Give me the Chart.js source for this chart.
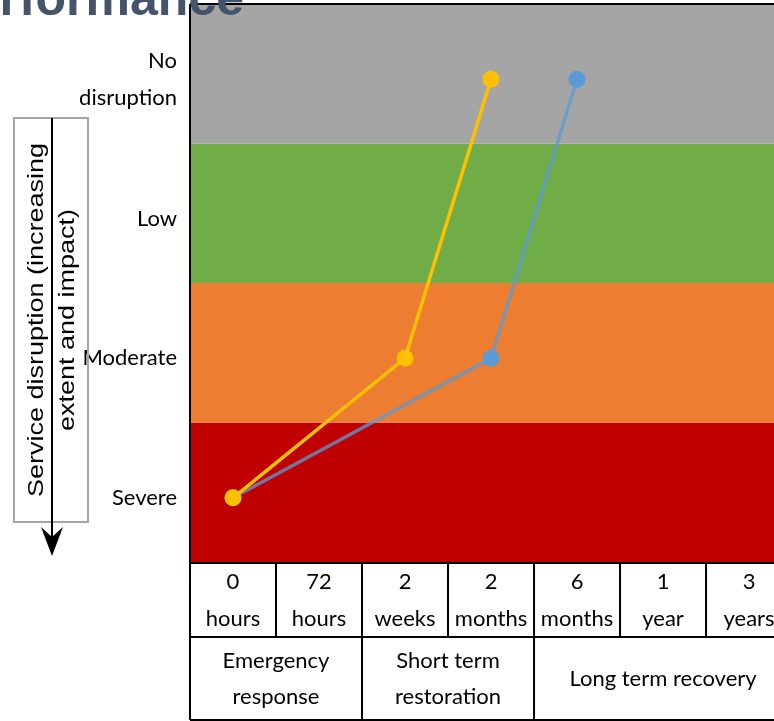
<!DOCTYPE html>
<html>
<head>
<meta charset="utf-8">
<script src="https://cdn.jsdelivr.net/npm/chart.js@4"></script>
<style>
html, body { margin: 0; padding: 0; background: #fff; overflow: hidden; }
</style>
</head>
<body>
<canvas id="chart" width="774" height="721"></canvas>
<script>
const levelLabels = [['Severe'], ['Moderate'], ['Low'], ['No', 'disruption']];
const bandColors = ['#c00000', '#ed7d31', '#70ad47', '#a5a5a5'];
const timeLabels = [['0', 'hours'], ['72', 'hours'], ['2', 'weeks'], ['2', 'months'], ['6', 'months'], ['1', 'year'], ['3', 'years']];
const phaseLabels = [['Emergency', 'response'], ['Short term', 'restoration'], ['Long term recovery']];
const phaseStart = [0, 2, 4];
const fastX = [0, 2, 3];
const fastY = [0, 1, 3];
const slowX = [0, 3, 4];
const slowY = [0, 1, 3];

const FONT = 'Lato, "Open Sans", sans-serif';

const toPoints = (xs, ys) => xs.map((x, i) => ({ x, y: ys[i] }));

// colour bands behind the lines, one per disruption level
const bands = {
    id: 'bands',
    beforeDatasetsDraw(chart) {
        const { ctx, chartArea: a, scales: { y } } = chart;
        ctx.save();
        bandColors.forEach((c, i) => {
            const top = y.getPixelForValue(y.min + i + 1);
            const bottom = y.getPixelForValue(y.min + i);
            ctx.fillStyle = c;
            ctx.fillRect(a.left, top, a.right - a.left, bottom - top);
        });
        ctx.restore();
    }
};

// time table under the plot, frame, side note and cut title
const extras = {
    id: 'extras',
    afterDraw(chart) {
        const { ctx, chartArea: a, scales: { x } } = chart;
        const H = chart.height;
        const r1 = a.bottom + 1, r2 = r1 + 74, r3 = H - 1;
        const colX = i => x.getPixelForValue(i - 0.5);
        ctx.save();
        ctx.strokeStyle = '#000';
        ctx.lineWidth = 2;
        ctx.beginPath();
        ctx.moveTo(a.left, a.top); ctx.lineTo(a.right, a.top);
        ctx.moveTo(a.left, a.top); ctx.lineTo(a.left, r3);
        [r1, r2, r3].forEach(yy => { ctx.moveTo(a.left, yy); ctx.lineTo(a.right, yy); });
        for (let i = 1; i < timeLabels.length; i++) { ctx.moveTo(colX(i), r1); ctx.lineTo(colX(i), r2); }
        phaseStart.slice(1).forEach(s => { ctx.moveTo(colX(s), r2); ctx.lineTo(colX(s), r3); });
        ctx.stroke();

        ctx.fillStyle = '#000';
        ctx.font = '22px ' + FONT;
        ctx.textAlign = 'center';
        ctx.textBaseline = 'middle';
        timeLabels.forEach((t, i) => {
            const cx = x.getPixelForValue(i), cy = (r1 + r2) / 2;
            t.forEach((s, k) => ctx.fillText(s, cx, cy + (k - (t.length - 1) / 2) * 37));
        });
        phaseLabels.forEach((p, i) => {
            const end = i + 1 < phaseStart.length ? phaseStart[i + 1] : timeLabels.length;
            const cx = (colX(phaseStart[i]) + colX(end)) / 2, cy = (r2 + r3) / 2;
            p.forEach((s, k) => ctx.fillText(s, cx, cy + (k - (p.length - 1) / 2) * 36));
        });

        // side note with arrow
        ctx.strokeStyle = '#a6a6a6';
        ctx.strokeRect(14, 118, 74, 404);
        ctx.strokeStyle = '#000';
        ctx.lineWidth = 2;
        ctx.beginPath(); ctx.moveTo(52, 118); ctx.lineTo(52, 545); ctx.stroke();
        ctx.beginPath();
        ctx.moveTo(52, 556); ctx.lineTo(41, 527); ctx.lineTo(52, 537); ctx.lineTo(63, 527);
        ctx.closePath(); ctx.fill();
        ctx.save();
        ctx.translate(52, 320);
        ctx.rotate(-Math.PI / 2);
        ctx.scale(1, 0.85);
        ctx.font = '27px "Liberation Sans", Arial, sans-serif';
        ctx.fillText('Service disruption (increasing', 0, -18);
        ctx.fillText('extent and impact)', 0, 18);
        ctx.restore();

        ctx.font = 'bold 50px "Liberation Sans", Arial, sans-serif';
        ctx.fillStyle = '#44546a';
        ctx.textAlign = 'right';
        ctx.textBaseline = 'alphabetic';
        ctx.fillText('Performance', 244, 15);
        ctx.restore();
    }
};

new Chart(document.getElementById('chart'), {
    type: 'scatter',
    data: {
        datasets: [
            {
                data: toPoints(fastX, fastY),
                showLine: true,
                borderColor: '#ffc000',
                backgroundColor: '#ffc000',
                borderWidth: 3.5,
                pointRadius: 8.5,
                pointBorderWidth: 0
            },
            {
                data: toPoints(slowX, slowY),
                showLine: true,
                borderColor: 'rgba(91,155,213,0.75)',
                backgroundColor: '#5b9bd5',
                borderWidth: 3.5,
                pointRadius: 8.5,
                pointBorderWidth: 0
            }
        ]
    },
    options: {
        responsive: false,
        devicePixelRatio: 1,
        animation: false,
        layout: { autoPadding: false, padding: { top: 4, bottom: 159, left: 0, right: 0 } },
        plugins: { legend: { display: false }, tooltip: { enabled: false } },
        scales: {
            x: { type: 'linear', min: -0.5, max: 6.29, display: false },
            y: {
                type: 'linear',
                min: -0.46,
                max: 3.54,
                afterBuildTicks: s => { s.ticks = levelLabels.map((_, i) => ({ value: i })); },
                afterFit: s => {
                    s.width = 190;
                    s.paddingTop = 0;
                    s.paddingBottom = 0;
                },
                grid: { display: false },
                border: { display: false },
                ticks: {
                    padding: 5,
                    color: '#000',
                    font: { family: FONT, size: 22, lineHeight: 1.68 },
                    callback: v => levelLabels[v]
                }
            }
        }
    },
    plugins: [bands, extras]
});
</script>
</body>
</html>
